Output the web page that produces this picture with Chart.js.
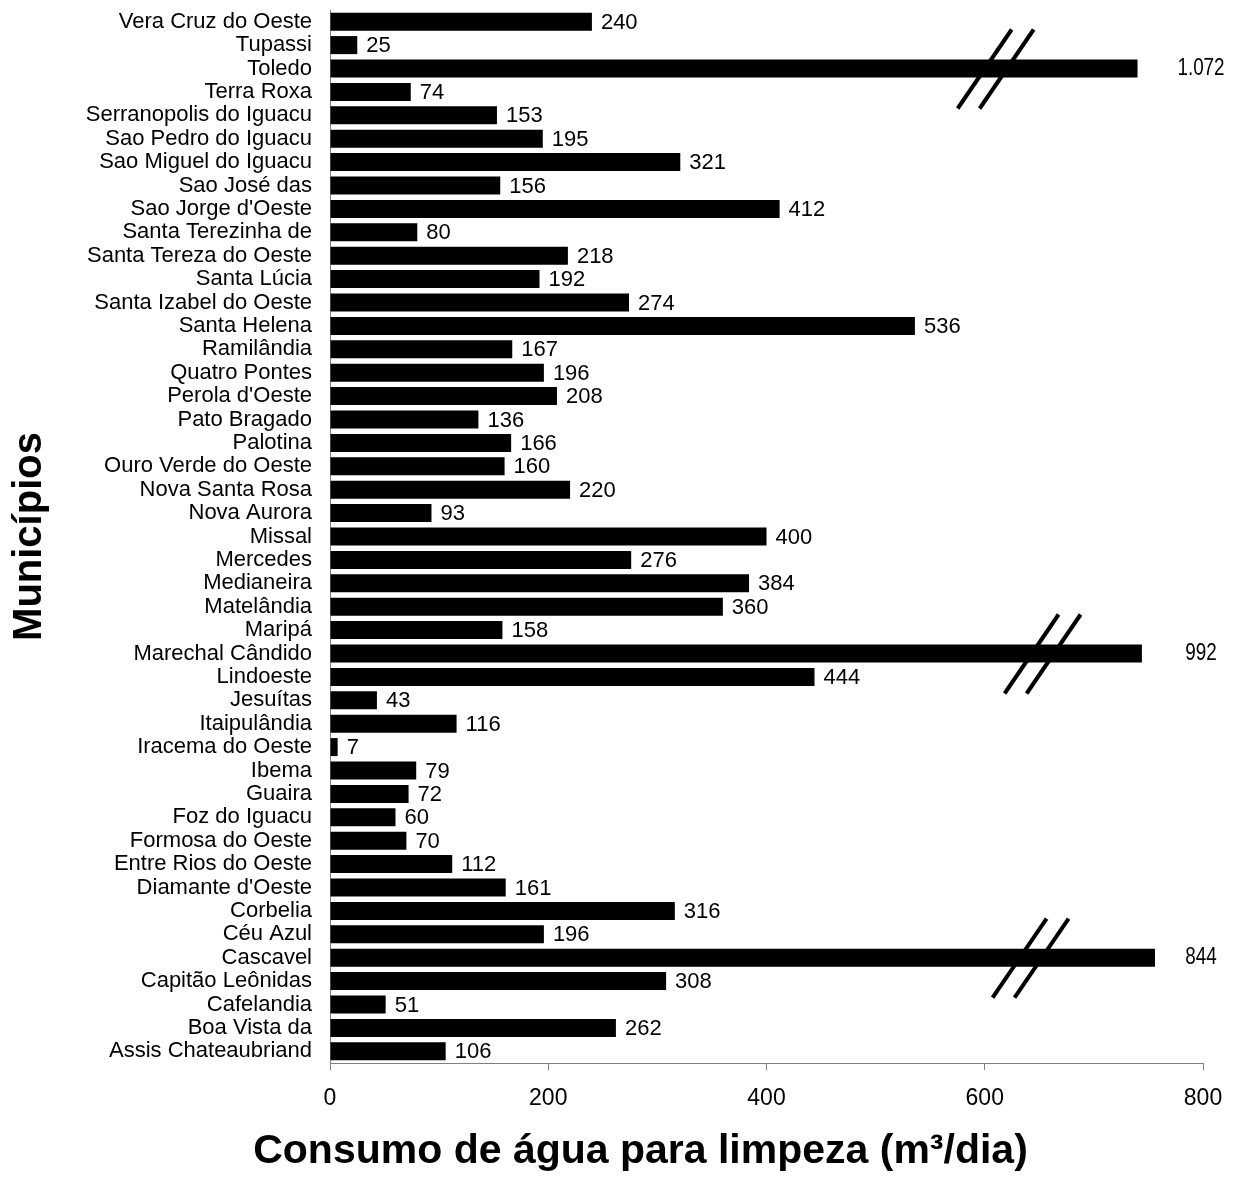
<!DOCTYPE html>
<html>
<head>
<meta charset="utf-8">
<script src="https://cdn.jsdelivr.net/npm/chart.js@4.4.1/dist/chart.umd.min.js"></script>
<style>
html, body { margin: 0; padding: 0; background: #fff; }
</style>
</head>
<body>
<canvas id="myChart" width="1245" height="1196"></canvas>
<script>
var municipios = ['Vera Cruz do Oeste', 'Tupassi', 'Toledo', 'Terra Roxa', 'Serranopolis do Iguacu',
    'Sao Pedro do Iguacu', 'Sao Miguel do Iguacu', 'Sao José das', "Sao Jorge d'Oeste", 'Santa Terezinha de',
    'Santa Tereza do Oeste', 'Santa Lúcia', 'Santa Izabel do Oeste', 'Santa Helena', 'Ramilândia',
    'Quatro Pontes', "Perola d'Oeste", 'Pato Bragado', 'Palotina', 'Ouro Verde do Oeste',
    'Nova Santa Rosa', 'Nova Aurora', 'Missal', 'Mercedes', 'Medianeira',
    'Matelândia', 'Maripá', 'Marechal Cândido', 'Lindoeste', 'Jesuítas',
    'Itaipulândia', 'Iracema do Oeste', 'Ibema', 'Guaira', 'Foz do Iguacu',
    'Formosa do Oeste', 'Entre Rios do Oeste', "Diamante d'Oeste", 'Corbelia', 'Céu Azul',
    'Cascavel', 'Capitão Leônidas', 'Cafelandia', 'Boa Vista da', 'Assis Chateaubriand'];
var consumo = [240, 25, 1072, 74, 153,
    195, 321, 156, 412, 80,
    218, 192, 274, 536, 167,
    196, 208, 136, 166, 160,
    220, 93, 400, 276, 384,
    360, 158, 992, 444, 43,
    116, 7, 79, 72, 60,
    70, 112, 161, 316, 196,
    844, 308, 51, 262, 106];
// bars cut with a break mark: drawn length on the axis
var cortados = ['Toledo', 'Marechal Cândido', 'Cascavel'];
var comprimentoCorte = [740, 744, 756];
var eixoMin = 0;
var eixoMax = 800;
var eixoPasso = 200;

var valoresBarra = municipios.map(function (m, i) {
    var k = cortados.indexOf(m);
    return k >= 0 ? comprimentoCorte[k] : consumo[i];
});

function formatar(v) {
    return String(v).replace(/\B(?=(\d{3})+(?!\d))/g, '.');
}

var fonte = '"Liberation Sans", Arial, sans-serif';

const rotulosPlugin = {
    id: 'rotulos',
    afterDatasetsDraw: function (chart, args, opts) {
        var ctx = chart.ctx;
        var area = chart.chartArea;
        var xs = chart.scales.x;
        var meta = chart.getDatasetMeta(0);
        ctx.save();
        ctx.fillStyle = '#000';
        ctx.strokeStyle = '#000';
        ctx.textBaseline = 'middle';
        meta.data.forEach(function (bar, i) {
            var k = cortados.indexOf(municipios[i]);
            if (k >= 0) {
                var cx = xs.getPixelForValue(opts.quebra[k]);
                ctx.lineWidth = 4;
                [-11, 11].forEach(function (dx) {
                    ctx.beginPath();
                    ctx.moveTo(cx + dx - 27, bar.y + 40);
                    ctx.lineTo(cx + dx + 27, bar.y - 39);
                    ctx.stroke();
                });
                ctx.save();
                ctx.translate(area.right - 2, bar.y);
                ctx.scale(0.82, 1);
                ctx.textAlign = 'center';
                ctx.font = '23px ' + fonte;
                ctx.fillText(formatar(consumo[i]), 0, 0);
                ctx.restore();
            } else {
                ctx.textAlign = 'left';
                ctx.font = '22px ' + fonte;
                ctx.fillText(formatar(consumo[i]), bar.x + 9, bar.y + 1);
            }
        });
        ctx.restore();
    },
    afterDraw: function (chart) {
        var ctx = chart.ctx;
        ctx.save();
        ctx.fillStyle = '#000';
        ctx.textAlign = 'center';
        ctx.textBaseline = 'middle';
        ctx.font = 'bold 41px ' + fonte;
        ctx.fillText('Consumo de água para limpeza (m³/dia)', chart.width / 2 + 18, chart.height - 44);
        ctx.restore();
    }
};

var ctx = document.getElementById('myChart').getContext('2d');

new Chart(ctx, {
    type: 'bar',
    data: {
        labels: municipios,
        datasets: [{
            data: valoresBarra,
            backgroundColor: '#000',
            borderWidth: 0,
            barPercentage: 0.77,
            categoryPercentage: 1
        }]
    },
    options: {
        indexAxis: 'y',
        responsive: false,
        animation: false,
        layout: { padding: { top: 10, right: 42, bottom: 0, left: 0 } },
        scales: {
            x: {
                min: eixoMin,
                max: eixoMax,
                afterFit: function (s) { s.height = 133; },
                ticks: {
                    stepSize: eixoPasso,
                    color: '#000',
                    padding: 15,
                    font: { family: fonte, size: 23 }
                },
                grid: {
                    display: true,
                    drawOnChartArea: false,
                    drawTicks: true,
                    tickLength: 7,
                    color: '#808080'
                },
                border: { display: true, color: '#808080', width: 1 }
            },
            y: {
                afterFit: function (s) {
                    s.width = 330;
                    s.paddingTop = 0;
                    s.paddingBottom = 0;
                },
                ticks: {
                    autoSkip: false,
                    color: '#000',
                    padding: 10,
                    font: { family: fonte, size: 22 }
                },
                grid: { display: false },
                border: { display: true, color: '#808080', width: 1 },
                title: {
                    display: true,
                    text: 'Municípios',
                    color: '#000',
                    padding: { top: 6, bottom: 0 },
                    font: { family: fonte, size: 40, weight: 'bold' }
                }
            }
        },
        plugins: {
            legend: { display: false },
            tooltip: { enabled: false },
            rotulos: { quebra: [610, 653, 642] }
        }
    },
    plugins: [rotulosPlugin]
});
</script>
</body>
</html>
